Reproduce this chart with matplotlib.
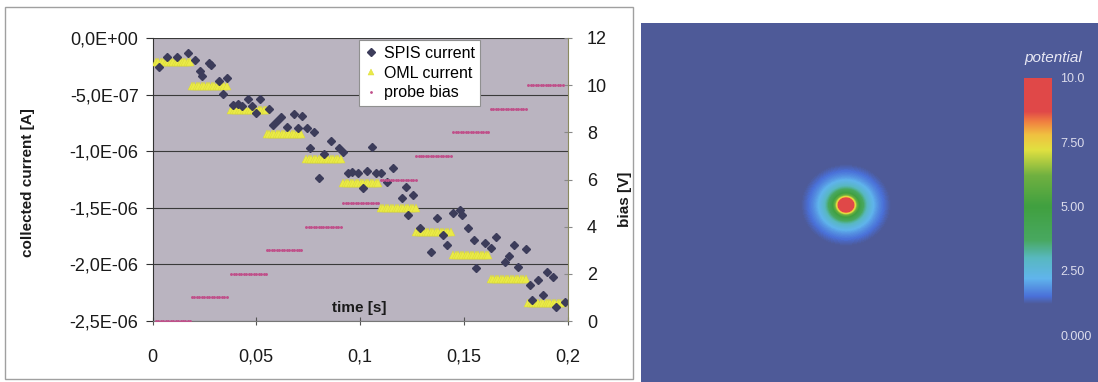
import matplotlib.pyplot as plt
import numpy as np
from matplotlib.colors import LinearSegmentedColormap
from matplotlib.patches import Rectangle
from matplotlib.ticker import FixedLocator, FuncFormatter

plt.rcParams['font.family'] = ['Liberation Sans', 'DejaVu Sans']

# SPIS simulated collected current: time [s], current [uA]
spis_t = [0.003, 0.007, 0.012, 0.017, 0.0205, 0.023, 0.024, 0.027, 0.028, 0.032,
          0.036, 0.034, 0.039, 0.041, 0.043, 0.046, 0.048, 0.052, 0.050, 0.056,
          0.058, 0.060, 0.062, 0.065, 0.068, 0.070, 0.072, 0.0745, 0.078, 0.076,
          0.0825, 0.086, 0.090, 0.092, 0.080, 0.094, 0.096, 0.099, 0.1015, 0.1035,
          0.106, 0.1075, 0.110, 0.113, 0.116, 0.122, 0.120, 0.1255, 0.123, 0.129,
          0.134, 0.137, 0.140, 0.142, 0.145, 0.148, 0.149, 0.152, 0.155, 0.156,
          0.160, 0.163, 0.1655, 0.170, 0.172, 0.174, 0.176, 0.180, 0.182, 0.186,
          0.183, 0.188, 0.190, 0.193, 0.1945, 0.199]
spis_i = [-0.254, -0.168, -0.168, -0.135, -0.194, -0.289, -0.336, -0.218, -0.239, -0.377,
          -0.356, -0.495, -0.592, -0.583, -0.601, -0.539, -0.601, -0.539, -0.665, -0.627,
          -0.769, -0.731, -0.695, -0.784, -0.671, -0.798, -0.689, -0.798, -0.828, -0.974,
          -1.025, -0.907, -0.974, -1.004, -1.239, -1.195, -1.181, -1.195, -1.328, -1.172,
          -0.960, -1.195, -1.195, -1.269, -1.151, -1.314, -1.416, -1.387, -1.564, -1.681,
          -1.893, -1.593, -1.740, -1.829, -1.549, -1.519, -1.564, -1.681, -1.784, -2.034,
          -1.814, -1.858, -1.761, -1.976, -1.926, -1.829, -2.020, -1.867, -2.182, -2.138,
          -2.315, -2.270, -2.064, -2.109, -2.374, -2.330]

# OML current [uA] and probe bias [V], one value per bias step
step_start = [0.0015, 0.019, 0.038, 0.055, 0.074, 0.092, 0.110, 0.127, 0.145, 0.163, 0.181]
step_width = 0.018
oml_i = [-0.21, -0.42, -0.64, -0.85, -1.07, -1.28, -1.50, -1.71, -1.92, -2.13, -2.34]
probe_bias = [0, 1, 2, 3, 4, 5, 6, 7, 8, 9, 10]
n_per_step = 15

# potential map (right panel), pixel units of the map
probe_xy = (205, 182)
probe_radius = 7.0
probe_potential = 10.0
debye_length = 150.0
map_size = (457, 359)
cbar_ticks = [0.0, 2.5, 5.0, 7.5, 10.0]
cbar_labels = ['0.000', '2.50', '5.00', '7.50', '10.0']

W, H = 1098, 382
fig = plt.figure(figsize=(W / 100, H / 100), dpi=100)

# frame round the left chart
fig.patches.append(Rectangle((5 / W, 3 / H), 628 / W, 372 / H, transform=fig.transFigure,
                             fill=False, edgecolor='#a0a0a0', lw=1))

ax = fig.add_axes([152.5 / W, 1 - 321 / H, 415 / W, 283 / H])
ax.set_facecolor('#bab4c0')

dt = step_width / n_per_step
t_sampled = np.concatenate([s + dt * np.arange(n_per_step) for s in step_start])
oml_sampled = np.repeat(oml_i, n_per_step) * 1e-6
bias_sampled = np.repeat(probe_bias, n_per_step)

h_oml, = ax.plot(t_sampled, oml_sampled, ls='none', marker='^', ms=5.5,
                 color='#eaea48', mec='#d8d830', mew=0.3, zorder=3)
h_spis, = ax.plot(spis_t, np.array(spis_i) * 1e-6, ls='none', marker='D', ms=4.2,
                  color='#3c3c5a', zorder=4)

ax.set_xlim(0, 0.2)
ax.set_ylim(-2.5e-6, 0)
yt = [-2.5e-6, -2.0e-6, -1.5e-6, -1.0e-6, -5.0e-7, 0.0]
ax.yaxis.set_major_locator(FixedLocator(yt))
ax.yaxis.set_major_formatter(FuncFormatter(lambda v, p: f"{v:.1E}".replace('.', ',')))
ax.xaxis.set_major_locator(FixedLocator([0, 0.05, 0.1, 0.15, 0.2]))
ax.xaxis.set_major_formatter(FuncFormatter(lambda v, p: f"{v:g}".replace('.', ',')))
ax.grid(axis='y', color='#3a3a3a', lw=0.8)
ax.set_axisbelow(True)
ax.tick_params(axis='y', direction='out', length=5, pad=5, labelsize=13, colors='#333', labelcolor='#1a1a1a')
ax.tick_params(axis='x', direction='inout', length=6, pad=17, labelsize=13, colors='#555', labelcolor='#1a1a1a')
for side in ['top', 'right']:
    ax.spines[side].set_visible(False)
ax.spines['left'].set_color('#333')
ax.spines['bottom'].set_color('#777')

ax.set_ylabel('collected current [A]', fontsize=11, fontweight='bold', color='#1a1a1a')
ax.yaxis.set_label_coords(-0.283, 0.49)
ax.text(0.4976, 0.046, 'time [s]', transform=ax.transAxes, ha='center', va='center',
        fontsize=11, fontweight='bold', color='#1a1a1a', zorder=5)

ax2 = ax.twinx()
h_bias, = ax2.plot(t_sampled, bias_sampled, ls='none', marker='.', ms=2.2,
                   color='#c0508a', zorder=3)
ax2.set_ylim(0, 12)
ax2.yaxis.set_major_locator(FixedLocator([0, 2, 4, 6, 8, 10, 12]))
ax2.tick_params(axis='y', direction='inout', length=6, pad=11, labelsize=13, colors='#888',
                labelcolor='#1a1a1a')
for side in ['top', 'left', 'bottom']:
    ax2.spines[side].set_visible(False)
ax2.spines['right'].set_color('#8a8a60')
ax2.set_ylabel('bias [V]', fontsize=11, fontweight='bold', color='#1a1a1a')
ax2.yaxis.set_label_coords(1.122, 0.43)

leg = ax2.legend([h_spis, h_oml, h_bias], ['SPIS current', 'OML current', 'probe bias'],
                 loc='upper left', bbox_to_anchor=(0.478, 1.02), fontsize=11.5,
                 frameon=True, fancybox=False, framealpha=1, edgecolor='#909090',
                 handlelength=0.8, handletextpad=0.4, borderpad=0.35, labelspacing=0.3,
                 markerscale=0.9)
leg.get_frame().set_linewidth(0.8)

# right panel: potential map around the probe
bg = '#4e5a98'
cmap = LinearSegmentedColormap.from_list('potential', [
    (0.0, bg), (0.12, bg), (0.15, '#4a70d8'), (0.22, '#60b4ec'), (0.30, '#58b8c0'),
    (0.37, '#48a860'), (0.50, '#40a040'), (0.62, '#70b040'), (0.72, '#e0e040'),
    (0.78, '#f0c040'), (0.83, '#f08040'), (0.87, '#e04848'), (1.0, '#e04848')])

axm = fig.add_axes([641 / W, 0, 457 / W, 359 / H])
xx, yy = np.meshgrid(np.arange(map_size[0]) + 0.5, np.arange(map_size[1]) + 0.5)
r = np.hypot(xx - probe_xy[0], (yy - probe_xy[1]) * 1.1)
r = np.maximum(r, probe_radius)
phi = probe_potential * probe_radius / r * np.exp(-(r - probe_radius) / debye_length)
im = axm.imshow(phi, cmap=cmap, vmin=0, vmax=10, extent=(0, map_size[0], map_size[1], 0),
                interpolation='bilinear', aspect='auto')
axm.set_axis_off()

cax = fig.add_axes([1024 / W, 1 - 335 / H, 28 / W, 257 / H])
cb = fig.colorbar(im, cax=cax)
cb.outline.set_visible(False)
cb.set_ticks(cbar_ticks)
cb.set_ticklabels(cbar_labels)
cax.tick_params(length=0, pad=6, labelsize=9, labelcolor='#dcdcec')
fig.text(1024 / W, 1 - 58 / H, 'potential', fontsize=11, style='italic', color='#e8e8f4',
         ha='left', va='center')

fig.savefig('out.png', dpi=100)
